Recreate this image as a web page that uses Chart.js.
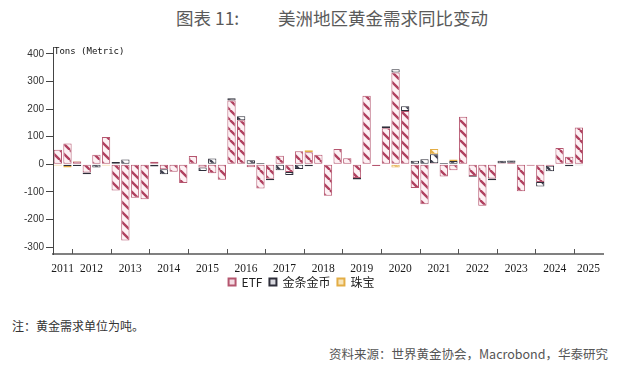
<!DOCTYPE html>
<html>
<head>
<meta charset="utf-8">
<script src="https://cdn.jsdelivr.net/npm/chart.js@4.4.1/dist/chart.umd.min.js"></script>
<style>
  html,body{margin:0;padding:0;background:#fff;}
  body{width:626px;height:374px;position:relative;overflow:hidden;font-family:"Noto Sans CJK SC","Noto Sans",sans-serif;}
  #wrap{position:absolute;left:0;top:0;width:626px;height:298px;}
  .t{position:absolute;font-size:17.5px;color:#5a5a5a;line-height:24px;top:6px;white-space:nowrap;}
  #unit{position:absolute;left:54px;top:46px;font-family:"DejaVu Sans Mono",monospace;font-size:9px;color:#111;line-height:11px;}
  #note{position:absolute;left:12px;top:318px;font-size:12px;color:#333;line-height:16px;}
  #src{position:absolute;right:18px;top:346px;font-size:12.5px;color:#555;line-height:16px;white-space:nowrap;}
</style>
</head>
<body>
<div class="t" style="left:176px;">图表 11:</div>
<div class="t" style="left:278px;">美洲地区黄金需求同比变动</div>
<div id="wrap"><canvas id="c" width="626" height="298"></canvas></div>
<div id="unit">Tons (Metric)</div>
<div id="note">注：黄金需求单位为吨。</div>
<div id="src">资料来源：世界黄金协会，Macrobond，华泰研究</div>
<script>
// ---- data ----
const quarters = [
 '2011Q3','2011Q4',
 '2012Q1','2012Q2','2012Q3','2012Q4',
 '2013Q1','2013Q2','2013Q3','2013Q4',
 '2014Q1','2014Q2','2014Q3','2014Q4',
 '2015Q1','2015Q2','2015Q3','2015Q4',
 '2016Q1','2016Q2','2016Q3','2016Q4',
 '2017Q1','2017Q2','2017Q3','2017Q4',
 '2018Q1','2018Q2','2018Q3','2018Q4',
 '2019Q1','2019Q2','2019Q3','2019Q4',
 '2020Q1','2020Q2','2020Q3','2020Q4',
 '2021Q1','2021Q2','2021Q3','2021Q4',
 '2022Q1','2022Q2','2022Q3','2022Q4',
 '2023Q1','2023Q2','2023Q3','2023Q4',
 '2024Q1','2024Q2','2024Q3','2024Q4',
 '2025Q1','2025Q2','2025Q3'
];
const years = ['2011','2012','2013','2014','2015','2016','2017','2018','2019','2020','2021','2022','2023','2024','2025'];
const yTicks = [-300,-200,-100,0,100,200,300,400];
const seriesNames = ['ETF','金条金币','珠宝'];

const etf = [
 53,75,
 10,-30,35,99,
 -95,-276,-121,-127,
 9,-18,-27,-68,
 30,-12,-32,-56,
 231,160,-11,-88,
 -52,31,-28,47,
 44,35,-114,55,
 22,-50,248,-6,
 131,333,193,-86,
 -145,4,-44,-22,
 172,-42,-150,-51,
 4,6,-98,-5,
 -64,-5,59,27,
 133,null,null
];
const barCoin = [
 0,-6,
 -6,-6,-12,0,
 8,17,0,0,
 -8,-18,0,0,
 0,-12,21,0,
 8,14,15,5,
 -6,-22,-11,-17,
 -7,0,0,0,
 0,-5,0,0,
 7,11,17,13,
 18,32,5,12,
 0,-3,0,-7,
 9,8,0,0,
 -16,-20,0,-7,
 -3,null,null
];
const jewelry = [
 -4,-6,
 2,0,0,-4,
 0,0,0,0,
 0,0,0,0,
 0,0,0,0,
 0,0,0,0,
 0,0,0,0,
 7,0,0,0,
 0,0,0,0,
 0,-12,0,0,
 0,19,0,5,
 0,0,0,0,
 0,0,0,0,
 0,0,0,0,
 0,null,null
];

// ---- styles ----
function makePattern(bg, stripe, lw, size){
  const c = document.createElement('canvas');
  c.width = size; c.height = size;
  const g = c.getContext('2d');
  g.fillStyle = bg; g.fillRect(0,0,size,size);
  g.strokeStyle = stripe; g.lineWidth = lw;
  g.beginPath();
  for (let k=-1;k<=1;k++){ g.moveTo(k*size,0); g.lineTo(k*size+size,size); }
  g.stroke();
  return g.createPattern(c,'repeat');
}
const colors = [
  {bg:'#fdf1f4', stripe:'#b0405f', border:'#b5566f', legendFill:'#f3dbe2'},
  {bg:'#ffffff', stripe:'#3c3c4c', border:'#2e2e3a', legendFill:'#d8d8de'},
  {bg:'#fffaf0', stripe:'#e6b04a', border:'#e3ad45', legendFill:'#f7e5bb'}
];
const dataSets = [etf, barCoin, jewelry];

const yearAxis = {
  id:'yearAxis',
  afterDraw(chart){
    const xs = chart.scales.x, ctx = chart.ctx, bottom = chart.chartArea.bottom;
    const half = (xs.getPixelForValue(1) - xs.getPixelForValue(0)) / 2;
    ctx.save();
    ctx.strokeStyle = '#555'; ctx.lineWidth = 1;
    ctx.fillStyle = '#1a1a1a';
    ctx.font = '11.5px "Liberation Serif", "Times New Roman", serif';
    ctx.textAlign = 'center'; ctx.textBaseline = 'middle';
    years.forEach((yr, k) => {
      const idx = [];
      quarters.forEach((q,i) => { if (q.slice(0,4) === yr) idx.push(i); });
      const first = idx[0], last = idx[idx.length-1];
      const left = xs.getPixelForValue(first) - half;
      const right = xs.getPixelForValue(last) + half;
      if (k > 0) {
        const px = Math.round(left) + 0.5;
        ctx.beginPath(); ctx.moveTo(px, bottom); ctx.lineTo(px, bottom - 5); ctx.stroke();
      }
      ctx.fillText(yr, (left + right) / 2, bottom + 15);
    });
    ctx.restore();
  }
};

new Chart(document.getElementById('c'), {
  type: 'bar',
  data: {
    labels: quarters,
    datasets: dataSets.map((d, i) => ({
      label: seriesNames[i],
      data: d,
      backgroundColor: makePattern(colors[i].bg, colors[i].stripe, 2.4, 10),
      borderColor: colors[i].border,
      borderWidth: 1,
      borderSkipped: false,
      categoryPercentage: 1,
      barPercentage: 0.86
    }))
  },
  options: {
    responsive: false,
    animation: false,
    devicePixelRatio: 1,
    layout: { padding: { top: 47, right: 23, left: 0, bottom: 0 } },
    plugins: {
      legend: {
        position: 'bottom',
        labels: {
          boxWidth: 7, boxHeight: 7, padding: 7,
          color: '#222',
          font: { size: 12, family: '"Noto Sans CJK SC", sans-serif' },
          generateLabels(chart){
            return chart.data.datasets.map((ds, i) => ({
              text: ds.label, fillStyle: colors[i].legendFill,
              strokeStyle: colors[i].border, lineWidth: 2,
              datasetIndex: i, hidden: false, fontColor: '#222'
            }));
          }
        }
      },
      tooltip: { enabled: false }
    },
    scales: {
      x: {
        stacked: true,
        grid: { display: false },
        ticks: { display: false },
        border: { display: true, color: '#808080', width: 2 },
        afterFit(scale){ scale.height = 15; }
      },
      y: {
        stacked: true,
        min: -325, max: 425,
        afterBuildTicks(scale){ scale.ticks = yTicks.map(v => ({value: v})); },
        grid: { display: true, drawOnChartArea: false, drawTicks: true, tickLength: 7, color: '#444' },
        border: { display: true, color: '#444', width: 1 },
        ticks: {
          color: '#333', padding: 2,
          font: { size: 10, family: '"Liberation Sans", Arial, sans-serif' }
        },
        afterFit(scale){ scale.width = 53; }
      }
    }
  },
  plugins: [yearAxis]
});
</script>
</body>
</html>
